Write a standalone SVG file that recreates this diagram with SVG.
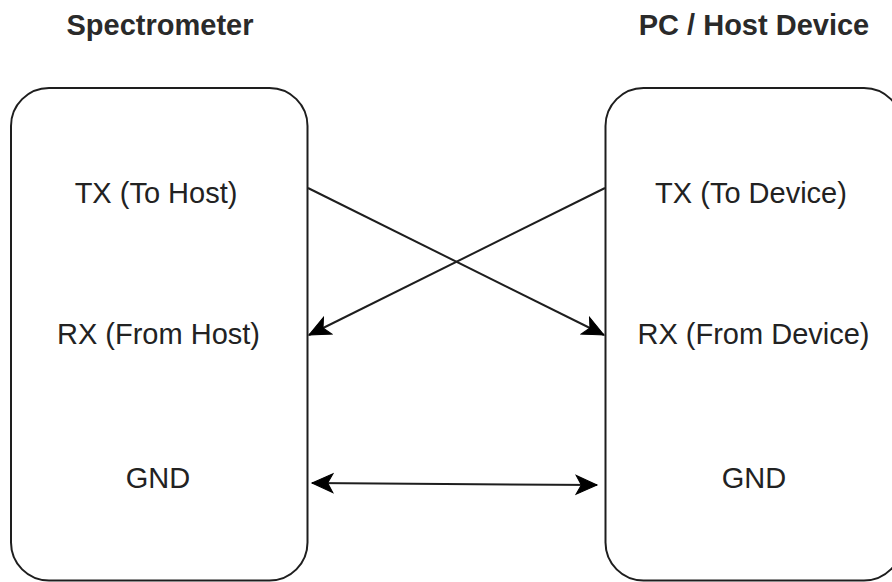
<svg xmlns="http://www.w3.org/2000/svg" width="892" height="582" viewBox="0 0 892 582">
  <defs>
    <style>
      .box { fill: #ffffff; stroke: #1e1e1e; stroke-width: 2; }
      .title { font-family: "Liberation Sans", Arial, sans-serif; font-size: 29px; font-weight: bold; fill: #2a2a2a; text-anchor: middle; }
      .lbl { font-family: "Liberation Sans", Arial, sans-serif; font-size: 29px; fill: #222222; text-anchor: middle; }
      .conn { fill: none; stroke: #1e1e1e; stroke-width: 2; }
    </style>
    <marker id="arrowEnd" markerUnits="userSpaceOnUse" markerWidth="24" markerHeight="24" viewBox="-21 -11 23 22" refX="0" refY="0" orient="auto">
      <path d="M0,0 L-20,-9 L-15,0 L-20,9 Z" fill="#000000" stroke="#000000" stroke-width="1" stroke-linejoin="miter"/>
    </marker>
    <marker id="arrowStart" markerUnits="userSpaceOnUse" markerWidth="24" markerHeight="24" viewBox="-21 -11 23 22" refX="0" refY="0" orient="auto-start-reverse">
      <path d="M0,0 L-20,-9 L-15,0 L-20,9 Z" fill="#000000" stroke="#000000" stroke-width="1" stroke-linejoin="miter"/>
    </marker>
  </defs>
  <rect width="892" height="582" fill="#ffffff"/>

  <g id="title-spectrometer">
    <text class="title" x="160" y="35">Spectrometer</text>
  </g>
  <g id="title-host">
    <text class="title" x="754" y="35">PC / Host Device</text>
  </g>

  <g id="spectrometer">
    <rect class="box" x="11" y="88" width="296.5" height="492.5" rx="38" ry="38"/>
    <text class="lbl" x="156" y="203">TX (To Host)</text>
    <text class="lbl" x="158.5" y="344">RX (From Host)</text>
    <text class="lbl" x="158" y="488">GND</text>
  </g>

  <g id="host">
    <rect class="box" x="605.5" y="88" width="296.5" height="492.5" rx="38" ry="38"/>
    <text class="lbl" x="751" y="203">TX (To Device)</text>
    <text class="lbl" x="753.5" y="344">RX (From Device)</text>
    <text class="lbl" x="754" y="488">GND</text>
  </g>

  <g id="connectors">
    <line class="conn" x1="308" y1="188" x2="604" y2="335" marker-end="url(#arrowEnd)"/>
    <line class="conn" x1="605" y1="188" x2="309" y2="335" marker-end="url(#arrowEnd)"/>
    <line class="conn" x1="312" y1="483" x2="597" y2="485" marker-start="url(#arrowStart)" marker-end="url(#arrowEnd)"/>
  </g>
</svg>
